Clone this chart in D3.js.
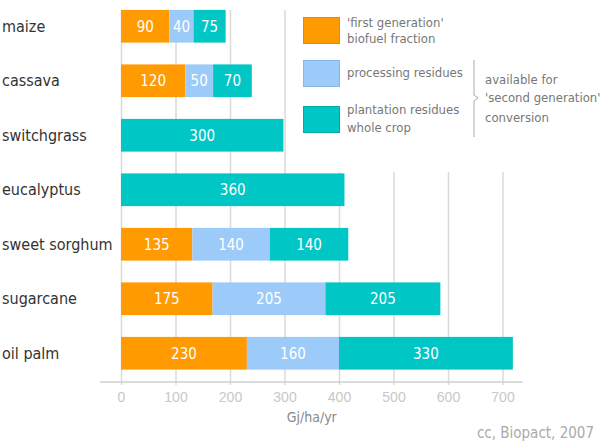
<!DOCTYPE html>
<html>
  <head>
    <meta charset="utf-8">
    <title>Biofuel yields</title>
    <script src="https://d3js.org/d3.v7.min.js"></script>
    <style>
      body { margin: 0; background: #fff; }
      svg { font-family: "DejaVu Sans Condensed", "DejaVu Sans", sans-serif; }
      .grid line { stroke: #dadada; stroke-width: 1.5; }
      .grid path { display: none; }
      .xaxis path, .xaxis line { display: none; }
      .xaxis text { fill: #c8c8c8; font-size: 14px; }
      .cat { fill: #333; font-size: 16px; }
      .val { fill: #fff; font-size: 15px; }
      .leg { fill: #777; font-size: 13px; }
    </style>
  </head>
  <body>
    <svg id="chart" width="608" height="441"></svg>
    <script>
      // chart data
      const crops = ["maize", "cassava", "switchgrass", "eucalyptus", "sweet sorghum", "sugarcane", "oil palm"];
      // segment lengths as drawn in the original (Gj/ha/yr)
      const firstGen = [89, 118, 0, 0, 131, 168, 231];
      const processing = [44, 51, 0, 0, 142, 207, 169];
      const plantation = [59, 71, 298, 410, 144, 211, 319];
      // figures printed on the segments of the original
      const firstGenLabels = [90, 120, 0, 0, 135, 175, 230];
      const processingLabels = [40, 50, 0, 0, 140, 205, 160];
      const plantationLabels = [75, 70, 300, 360, 140, 205, 330];
      const ticks = [0, 100, 200, 300, 400, 500, 600, 700];

      const seriesKeys = ["first", "processing", "plantation"];
      const labelSets = { first: firstGenLabels, processing: processingLabels, plantation: plantationLabels };
      const colors = { first: "#ff9a00", processing: "#9ccbfa", plantation: "#00c6c6" };
      const borders = { first: "#e88a00", processing: "#86b6e6", plantation: "#00aaaa" };

      const rows = crops.map(function(c, i) {
        return { crop: c, index: i, first: firstGen[i], processing: processing[i], plantation: plantation[i] };
      });
      const stacked = d3.stack().keys(seriesKeys)(rows);

      const svg = d3.select("#chart");
      const axisY = 382;

      const x = d3.scaleLinear().domain([0, 700]).range([121, 502.5]);
      const y = d3.scaleBand().domain(crops).range([-1, 380.5])
        .paddingInner(0.4).paddingOuter(0.2);

      // gridlines
      svg.append("g")
        .attr("class", "grid")
        .attr("transform", "translate(0," + (axisY + 3) + ")")
        .call(d3.axisBottom(x).tickValues(ticks).tickSize(-(axisY + 3 - 10)).tickFormat(""));

      // legend background hides the upper right gridlines
      svg.append("rect")
        .attr("x", 292).attr("y", 0)
        .attr("width", 316).attr("height", 172)
        .attr("fill", "#fff");

      // axis baseline and labels
      svg.append("line")
        .attr("x1", x(0) - 21).attr("x2", x(700) + 20)
        .attr("y1", axisY).attr("y2", axisY)
        .attr("stroke", "#cfcfcf").attr("stroke-width", 1.5);
      svg.append("g")
        .attr("class", "xaxis")
        .attr("transform", "translate(0," + axisY + ")")
        .call(d3.axisBottom(x).tickValues(ticks).tickSize(0).tickPadding(10));

      // bars
      const layers = svg.append("g").selectAll("g")
        .data(stacked)
        .join("g")
          .attr("fill", function(d) { return colors[d.key]; });
      layers.selectAll("rect")
        .data(function(d) { return d.filter(function(e) { return e[1] > e[0]; }); })
        .join("rect")
          .attr("x", function(d) { return x(d[0]); })
          .attr("y", function(d) { return y(d.data.crop); })
          .attr("width", function(d) { return x(d[1]) - x(d[0]); })
          .attr("height", y.bandwidth());

      // value labels
      layers.selectAll("text")
        .data(function(d) {
          return d.filter(function(e) { return e[1] > e[0]; })
            .map(function(e) { return { seg: e, label: labelSets[d.key][e.data.index] }; });
        })
        .join("text")
          .attr("class", "val")
          .attr("text-anchor", "middle")
          .attr("x", function(d) { return (x(d.seg[0]) + x(d.seg[1])) / 2; })
          .attr("y", function(d) { return y(d.seg.data.crop) + y.bandwidth() / 2 + 5.5; })
          .text(function(d) { return d.label; });

      // category labels
      svg.append("g").selectAll("text")
        .data(crops)
        .join("text")
          .attr("class", "cat")
          .attr("x", 2)
          .attr("y", function(d) { return y(d) + y.bandwidth() / 2 + 5.5; })
          .text(function(d) { return d; });

      // legend
      const legendItems = [
        { key: "first", y: 17, lines: ["'first generation'", "biofuel fraction"], ty: [27, 43] },
        { key: "processing", y: 60, lines: ["processing residues"], ty: [77] },
        { key: "plantation", y: 106, lines: ["plantation residues", "whole crop"], ty: [114, 132] }
      ];
      const legend = svg.append("g");
      legendItems.forEach(function(item) {
        legend.append("rect")
          .attr("x", 303.5).attr("y", item.y + 0.5)
          .attr("width", 36).attr("height", 26)
          .attr("fill", colors[item.key])
          .attr("stroke", borders[item.key]);
        item.lines.forEach(function(line, i) {
          legend.append("text")
            .attr("class", "leg")
            .attr("x", 347).attr("y", item.ty[i])
            .text(line);
        });
      });
      legend.append("path")
        .attr("d", "M474,60 L474,95 L478,98 L474,101 L474,137")
        .attr("fill", "none")
        .attr("stroke", "#aaa")
        .attr("stroke-width", 1);
      ["available for", "'second generation'", "conversion"].forEach(function(line, i) {
        legend.append("text")
          .attr("class", "leg")
          .attr("x", 485).attr("y", [84, 102, 122][i])
          .text(line);
      });

      // axis title and source
      svg.append("text")
        .attr("x", x(350)).attr("y", 422)
        .attr("text-anchor", "middle")
        .attr("fill", "#888").attr("font-size", 14)
        .text("Gj/ha/yr");
      svg.append("text")
        .attr("x", 594).attr("y", 438)
        .attr("text-anchor", "end")
        .attr("fill", "#aaa").attr("font-size", 15)
        .text("cc, Biopact, 2007");
    </script>
  </body>
</html>
